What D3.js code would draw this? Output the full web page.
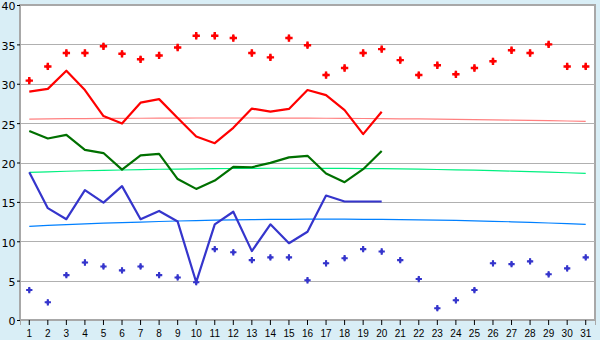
<!DOCTYPE html>
<html>
<head>
<meta charset="utf-8">
<script src="https://cdn.jsdelivr.net/npm/d3@7"></script>
<style>
  body { margin: 0; background: #d9eef6; }
  svg { display: block; }
  .y-axis .tick text { font-family: "DejaVu Sans", sans-serif; font-size: 11px; fill: #000; }
  .x-axis .tick text { font-family: "Liberation Sans", sans-serif; font-size: 10px; fill: #000; }
</style>
</head>
<body>
<script>
// days of the month
const days = d3.range(1, 32);
const yTicks = [0, 5, 10, 15, 20, 25, 30, 35, 40];

// scattered points (all 31 days)
const maxPoints = [30.4, 32.2, 33.9, 33.9, 34.75, 33.8, 33.1, 33.6, 34.6, 36.1,
  36.1, 35.8, 33.9, 33.35, 35.8, 34.9, 31.1, 32.0, 33.9, 34.4,
  33.0, 31.1, 32.35, 31.2, 32.0, 32.85, 34.25, 33.9, 35.0, 32.2, 32.2];
const minPoints = [3.8, 2.25, 5.7, 7.3, 6.8, 6.3, 6.8, 5.7, 5.4, 4.8,
  9.0, 8.6, 7.6, 7.95, 7.95, 5.05, 7.2, 7.85, 9.0, 8.7,
  7.6, 5.2, 1.5, 2.5, 3.8, 7.2, 7.1, 7.45, 5.8, 6.55, 7.95];

// measured lines (days 1-20)
const redLine = [29.0, 29.35, 31.65, 29.2, 25.9, 24.95, 27.6, 28.05, 25.65, 23.3,
  22.45, 24.4, 26.85, 26.45, 26.8, 29.2, 28.55, 26.65, 23.6, 26.45];
const greenLine = [24.0, 23.05, 23.5, 21.6, 21.2, 19.1, 20.9, 21.1, 17.9, 16.65,
  17.7, 19.45, 19.4, 19.95, 20.65, 20.85, 18.6, 17.5, 19.15, 21.45];
const blueLine = [18.75, 14.2, 12.8, 16.5, 14.9, 17.0, 12.8, 13.85, 12.5, 4.8,
  12.15, 13.75, 8.75, 12.15, 9.75, 11.2, 15.8, 15.05, 15.05, 15.05];

// trend curves (all 31 days)
const redTrend = [25.52, 25.54, 25.56, 25.58, 25.60, 25.61, 25.62, 25.63, 25.64, 25.65,
  25.65, 25.65, 25.65, 25.64, 25.64, 25.63, 25.62, 25.61, 25.59, 25.57,
  25.55, 25.53, 25.51, 25.48, 25.45, 25.42, 25.39, 25.35, 25.31, 25.27, 25.23];
const greenTrend = [18.75, 18.82, 18.89, 18.95, 19.00, 19.05, 19.10, 19.14, 19.17, 19.20,
  19.23, 19.24, 19.26, 19.27, 19.27, 19.27, 19.26, 19.25, 19.23, 19.21,
  19.18, 19.15, 19.11, 19.07, 19.02, 18.97, 18.91, 18.84, 18.77, 18.70, 18.62];
const blueTrend = [11.90, 12.01, 12.11, 12.20, 12.29, 12.37, 12.44, 12.51, 12.57, 12.62,
  12.67, 12.71, 12.74, 12.77, 12.78, 12.80, 12.80, 12.80, 12.79, 12.77,
  12.75, 12.72, 12.69, 12.64, 12.59, 12.53, 12.47, 12.40, 12.32, 12.24, 12.15];

const width = 600, height = 340;
const margin = { top: 5, right: 5, bottom: 20, left: 20 };

const svg = d3.select('body').append('svg')
  .attr('width', width)
  .attr('height', height);

const x = d3.scaleBand()
  .domain(days)
  .range([margin.left, width - margin.right])
  .padding(0);

const y = d3.scaleLinear()
  .domain([0, 40])
  .range([height - margin.bottom, margin.top]);

const cx = d => x(d) + x.bandwidth() / 2;

// plot area
svg.append('rect')
  .attr('x', margin.left)
  .attr('y', margin.top)
  .attr('width', width - margin.left - margin.right)
  .attr('height', height - margin.top - margin.bottom)
  .attr('fill', '#fff')
  .attr('stroke', '#a8a8a8')
  .attr('stroke-width', 2);

// grid lines
svg.append('g')
  .selectAll('line')
  .data(yTicks.slice(1, -1))
  .enter().append('line')
  .attr('x1', margin.left)
  .attr('x2', width - margin.right)
  .attr('y1', d => Math.round(y(d)) + 0.5)
  .attr('y2', d => Math.round(y(d)) + 0.5)
  .attr('stroke', '#b0b0b0');

// axes
const yAxis = svg.append('g')
  .attr('class', 'y-axis')
  .attr('transform', `translate(${margin.left},0)`)
  .call(d3.axisLeft(y).tickValues(yTicks).tickSize(3).tickPadding(1.5));
yAxis.select('.domain').attr('stroke', '#a8a8a8');
yAxis.selectAll('.tick text').attr('dy', '0.45em');

const xAxis = svg.append('g')
  .attr('class', 'x-axis')
  .attr('transform', `translate(0,${height - margin.bottom})`)
  .call(d3.axisBottom(x).tickSize(5).tickPadding(5));
xAxis.select('.domain').attr('stroke', '#a8a8a8');

// trend curves
const trendLine = d3.line()
  .x((d, i) => cx(days[i]))
  .y(d => y(d));

[[redTrend, '#ff8080'], [greenTrend, '#00f080'], [blueTrend, '#0080ff']].forEach(([data, color]) => {
  svg.append('path')
    .datum(data)
    .attr('fill', 'none')
    .attr('stroke', color)
    .attr('stroke-width', 1.2)
    .attr('d', trendLine);
});

// measured lines
[[redLine, '#ff0000'], [greenLine, '#007000'], [blueLine, '#3535cc']].forEach(([data, color]) => {
  svg.append('path')
    .datum(data)
    .attr('fill', 'none')
    .attr('stroke', color)
    .attr('stroke-width', 2.2)
    .attr('stroke-linejoin', 'round')
    .attr('d', trendLine);
});

// point markers: fat plus (cross with a diamond core)
function markers(data, color, crossSize, diamondSize) {
  const g = svg.append('g')
    .selectAll('g')
    .data(data)
    .enter().append('g')
    .attr('transform', (d, i) => `translate(${cx(days[i])},${y(d)})`)
    .attr('fill', color);
  g.append('path').attr('d', d3.symbol().type(d3.symbolCross).size(crossSize));
  g.append('path').attr('d', d3.symbol().type(d3.symbolDiamond).size(diamondSize));
}

markers(maxPoints, '#ff0000', 30, 16);
markers(minPoints, '#3535cc', 22, 12);
</script>
</body>
</html>
